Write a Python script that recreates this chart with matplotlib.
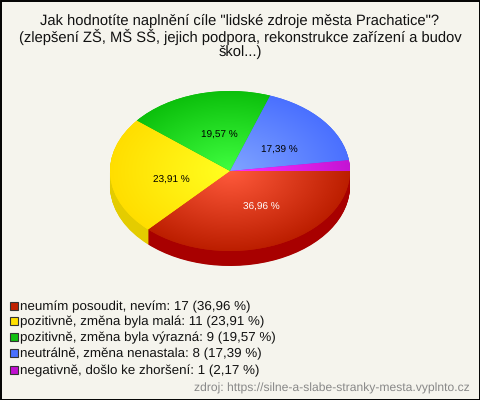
import numpy as np
import matplotlib
matplotlib.use("Agg")
import matplotlib.pyplot as plt
from matplotlib.colors import to_rgb
from matplotlib.patches import Rectangle

plt.rcParams['font.family'] = ['Liberation Sans', 'DejaVu Sans']
plt.rcParams['text.hinting'] = 'no_hinting'

title_lines = [
    'Jak hodnotíte naplnění cíle "lidské zdroje města Prachatice"?',
    '(zlepšení ZŠ, MŠ SŠ, jejich podpora, rekonstrukce zařízení a budov',
    'škol...)',
]
categories = [
    'neumím posoudit, nevím',
    'pozitivně, změna byla malá',
    'pozitivně, změna byla výrazná',
    'neutrálně, změna nenastala',
    'negativně, došlo ke zhoršení',
]
values = [17, 11, 9, 8, 1]
source = 'zdroj: https://silne-a-slabe-stranky-mesta.vyplnto.cz'

# gradient colours: middle of the pie -> rim, then the side wall and legend box
inner = ['#ff5a3c', '#ffff20', '#40ff40', '#80a4ff', '#ff30ff']
outer = ['#bc1e00', '#ffde00', '#0cc00c', '#4a70ff', '#c414d4']
side = ['#a80000', '#e4cc00', '#0a9a0a', '#3a58cc', '#9c10aa']
swatch = ['#c02000', '#ffe000', '#10c010', '#4a70ff', '#c010d0']
label_pos = [(261, 207), (171, 180), (219, 135), (279, 150), None]
label_col = ['white', 'black', 'black', 'black', None]

bg = '#f5f4ed'
cx, cy, rx, ry, depth = 230, 171, 120, 80, 15

fig = plt.figure(figsize=(4.8, 4), dpi=100, facecolor=bg)

# pie axes: unit circle squashed into the ellipse, extra room below for the wall
dy = depth / ry
pie_ax = fig.add_axes([(cx - rx) / 480, (400 - cy - ry - depth) / 400,
                       2 * rx / 480, (2 * ry + depth) / 400])

# side wall, stacked copies of the pie going down
for off in np.arange(dy, 0, -dy / 30):
    pie_ax.pie(values, colors=side, startangle=0, counterclock=False,
               center=(0, -off), wedgeprops=dict(linewidth=0.4, edgecolor='none'))

wedges, _ = pie_ax.pie(values, colors=outer, startangle=0, counterclock=False,
                       wedgeprops=dict(linewidth=0))

# radial gradient on each slice
xx, yy = np.meshgrid(np.linspace(-1, 1, 480), np.linspace(-1, 1, 320))
rr = np.clip(np.hypot(xx, yy), 0, 1)[..., None]
for w, c0, c1 in zip(wedges, inner, outer):
    img = np.array(to_rgb(c0)) * (1 - rr) + np.array(to_rgb(c1)) * rr
    im = pie_ax.imshow(img, extent=(-1, 1, -1, 1), origin='lower', aspect='auto',
                       interpolation='bilinear', zorder=3)
    im.set_clip_path(w)

pie_ax.set_xlim(-1, 1)
pie_ax.set_ylim(-1 - dy, 1)
pie_ax.set_aspect('auto')
pie_ax.axis('off')

# everything else in pixel coordinates
ax = fig.add_axes([0, 0, 1, 1])
ax.set_xlim(0, 480)
ax.set_ylim(400, 0)
ax.axis('off')
ax.patch.set_alpha(0)

ax.add_patch(Rectangle((0.5, 0.5), 479, 399, fill=False, edgecolor='black', linewidth=1.4))

for line, y in zip(title_lines, [21, 37, 53]):
    ax.text(240, y, line, ha='center', va='center', fontsize=10.6, color='#111111')

total = sum(values)
pcts = [f'{v / total * 100:.2f}'.replace('.', ',') for v in values]

for p, pos, col in zip(pcts, label_pos, label_col):
    if pos is None:
        continue
    ax.text(pos[0], pos[1], f'{p} %', ha='center', va='center', fontsize=7.2, color=col)

for i, (name, v, p, y) in enumerate(zip(categories, values, pcts, [306, 321, 337, 353, 370])):
    ax.add_patch(Rectangle((10, y - 4), 7.5, 7.5, facecolor=swatch[i], edgecolor='#333333', linewidth=0.8))
    ax.text(20, y + 0.5, f'{name}: {v} ({p} %)', ha='left', va='center', fontsize=9.6, color='#111111')

ax.text(470, 388.5, source, ha='right', va='center', fontsize=8.7, color='#888888')

fig.savefig('out.png', dpi=100, facecolor=bg)
